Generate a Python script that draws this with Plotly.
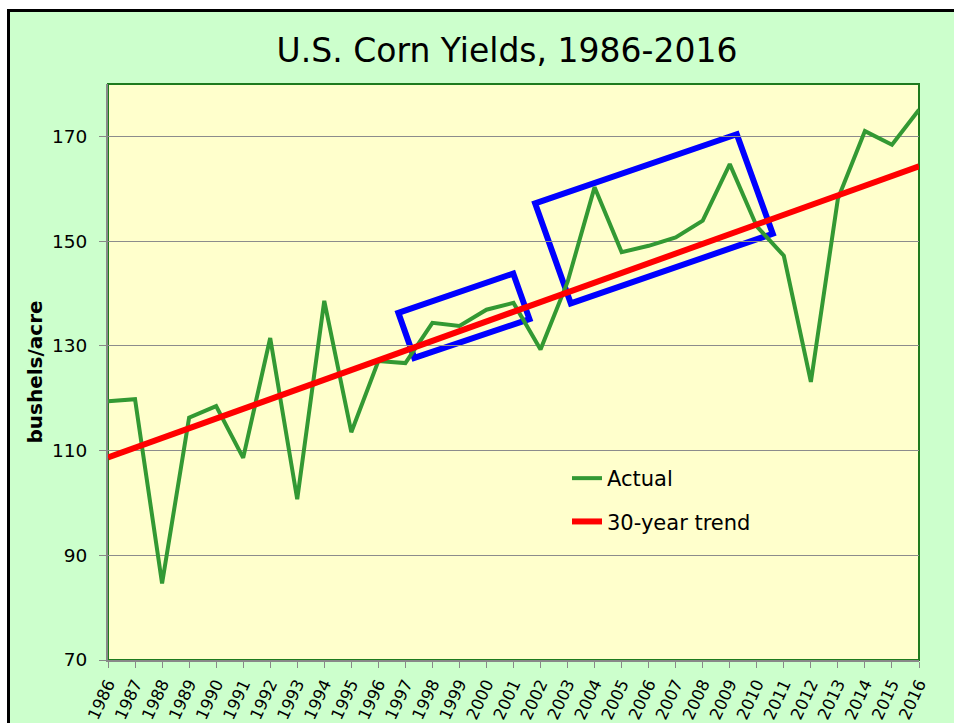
import plotly.graph_objects as go

# U.S. corn yields (bushels/acre)
years = list(range(1986, 2017))
actual = [119.4, 119.8, 84.6, 116.3, 118.5, 108.6, 131.5, 100.7, 138.6, 113.5,
          127.1, 126.7, 134.4, 133.8, 136.9, 138.2, 129.3, 142.2, 160.3, 147.9,
          149.1, 150.7, 153.9, 164.7, 152.8, 147.2, 123.1, 158.1, 171.0, 168.4,
          175.1]

# 30-year trend line end points
trend_years = [1986, 2016]
trend = [108.7, 164.3]

# highlight boxes (corner points in year / yield units)
box1_x = [1996.74, 2000.99, 2001.59, 1997.33]
box1_y = [136.3, 143.8, 135.1, 127.7]
box2_x = [2001.80, 2009.26, 2010.59, 2003.12]
box2_y = [157.2, 170.4, 151.4, 138.1]

FONT = "DejaVu Sans"
W, H = 954, 723
L, R, T, B = 108, 35, 84, 63
PW, PH = W - L - R, H - T - B


def px(x):
    # page pixel -> paper x
    return (x - L) / PW


def py(y):
    # page pixel -> paper y
    return 1 - (y - T) / PH


def box_path(xs, ys):
    pts = [f"{x},{y}" for x, y in zip(xs, ys)]
    return "M " + " L ".join(pts) + " Z"


fig = go.Figure()

fig.add_trace(go.Scatter(
    x=years, y=actual, name="Actual", mode="lines",
    line=dict(color="#339933", width=4),
    legendgroup="a",
))
fig.add_trace(go.Scatter(
    x=trend_years, y=trend, name="30-year trend", mode="lines",
    line=dict(color="#FF0000", width=6),
    legendgroup="b",
))

shapes = [
    # green chart area with black frame
    dict(type="rect", xref="paper", yref="paper", layer="below",
         x0=px(8.5), x1=px(W + 20), y0=py(H + 20), y1=py(10.5),
         fillcolor="#CCFFCC", line=dict(color="black", width=3)),
    # plot area
    dict(type="rect", xref="paper", yref="paper", layer="below",
         x0=0, x1=1, y0=0, y1=1,
         fillcolor="#FFFFCC", line=dict(color="#1E7B1E", width=2)),
]
for bx, by in [(box1_x, box1_y), (box2_x, box2_y)]:
    shapes.append(dict(type="path", xref="x", yref="y", layer="below",
                       path=box_path(bx, by),
                       line=dict(color="#0000FF", width=6)))

fig.update_layout(
    width=W, height=H,
    margin=dict(l=L, r=R, t=T, b=B),
    paper_bgcolor="white",
    plot_bgcolor="#FFFFCC",
    font=dict(family=FONT, color="black"),
    title=dict(text="U.S. Corn Yields, 1986-2016",
               font=dict(size=33, family=FONT, color="black"),
               xref="paper", x=px(507), xanchor="center",
               yref="container", y=1 - 50 / H, yanchor="middle"),
    shapes=shapes,
    showlegend=True,
    legend=dict(x=px(567), y=py(458), xanchor="left", yanchor="top",
                bgcolor="rgba(0,0,0,0)", font=dict(size=21, family=FONT),
                traceorder="grouped", tracegroupgap=13),
)

fig.update_xaxes(
    range=[1986, 2016], tickmode="array", tickvals=years,
    ticktext=[str(y) for y in years], tickangle=-65,
    tickfont=dict(size=16.5, family=FONT),
    ticks="outside", ticklen=6, tickcolor="#888888",
    showline=True, linecolor="#888888", linewidth=2,
    showgrid=False, zeroline=False, automargin=False,
)
fig.update_yaxes(
    range=[70, 180], tick0=70, dtick=20,
    tickfont=dict(size=18.5, family=FONT),
    ticks="outside", ticklen=7, tickcolor="#888888",
    ticklabelstandoff=8,
    showline=True, linecolor="#888888", linewidth=2,
    showgrid=True, gridcolor="#8C8C8C", gridwidth=1, zeroline=False,
    automargin=False,
    title=dict(text="<b>bushels/acre</b>", font=dict(size=20, family=FONT),
               standoff=4),
)

# drop the default body margin so the fixed-size figure fills the window
fig.write_html("out.html", config={"displayModeBar": False},
               post_script="document.body.style.margin = '0';")
